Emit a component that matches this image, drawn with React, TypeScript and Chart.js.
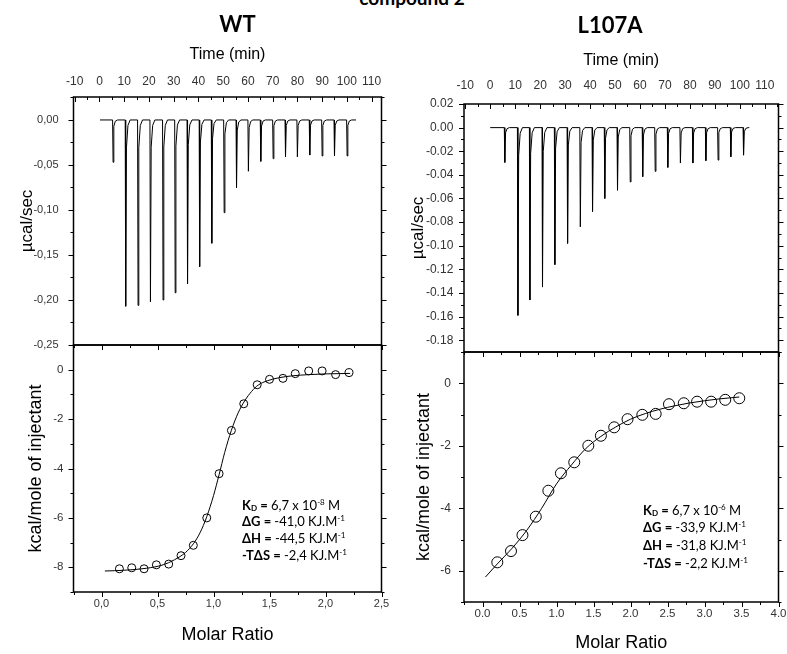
import React, { useEffect, useRef } from "react";
import { Chart, registerables } from "chart.js";

Chart.register(...registerables);

// ---------------- data ----------------
const TIME_TICKS = [-10, 0, 10, 20, 30, 40, 50, 60, 70, 80, 90, 100, 110];

// WT – raw thermogram (injection time in min, peak depth in µcal/sec)
const WT_INJ_TIME = [5.3, 10.4, 15.4, 20.4, 25.5, 30.4, 35.4, 40.3, 45.2, 50.2, 55.2, 60.0, 65.0, 70.0, 75.0, 79.8, 84.8, 89.8, 94.8, 99.9];
const WT_INJ_PEAK = [-0.047, -0.207, -0.206, -0.202, -0.2, -0.192, -0.182, -0.163, -0.137, -0.103, -0.075, -0.057, -0.046, -0.043, -0.041, -0.041, -0.039, -0.04, -0.04, -0.04];
const WT_RUN = [0.2, 103.7];
const WT_RAW_TICKS = [0, -0.05, -0.1, -0.15, -0.2, -0.25];

// WT – integrated heats
const WT_RATIO = [0.16, 0.27, 0.38, 0.49, 0.6, 0.71, 0.82, 0.94, 1.05, 1.16, 1.27, 1.39, 1.5, 1.62, 1.73, 1.85, 1.97, 2.09, 2.21];
const WT_HEAT = [-8.06, -8.02, -8.06, -7.9, -7.87, -7.53, -7.11, -6.0, -4.21, -2.46, -1.38, -0.61, -0.39, -0.35, -0.16, -0.05, -0.05, -0.2, -0.12];
const WT_FIT_RATIO = [0.03, 0.2, 0.4, 0.55, 0.65, 0.75, 0.82, 0.88, 0.94, 1.0, 1.05, 1.1, 1.16, 1.22, 1.28, 1.34, 1.4, 1.48, 1.58, 1.7, 1.85, 2.0, 2.22];
const WT_FIT_HEAT = [-8.15, -8.12, -8.04, -7.9, -7.7, -7.4, -7.05, -6.6, -5.95, -5.1, -4.25, -3.35, -2.45, -1.75, -1.25, -0.88, -0.62, -0.45, -0.33, -0.25, -0.2, -0.17, -0.15];
const WT_RATIO_TICKS = [0, 0.5, 1, 1.5, 2, 2.5];
const WT_HEAT_TICKS = [0, -2, -4, -6, -8];

// L107A – raw thermogram
const L_INJ_TIME = [5.65, 10.9, 15.7, 20.75, 25.7, 30.8, 35.9, 40.8, 45.7, 50.8, 55.9, 60.9, 65.9, 70.95, 76.0, 81.0, 86.2, 91.1, 96.2, 101.3];
const L_INJ_PEAK = [-0.0295, -0.159, -0.146, -0.135, -0.116, -0.098, -0.084, -0.071, -0.06, -0.053, -0.046, -0.0415, -0.037, -0.0337, -0.03, -0.03, -0.028, -0.0275, -0.0247, -0.0233];
const L_RUN = [0.0, 103.8];
const L_RAW_TICKS = [0.02, 0, -0.02, -0.04, -0.06, -0.08, -0.1, -0.12, -0.14, -0.16, -0.18];

// L107A – integrated heats
const L_RATIO = [0.2, 0.385, 0.54, 0.72, 0.89, 1.06, 1.24, 1.43, 1.6, 1.78, 1.96, 2.16, 2.34, 2.52, 2.72, 2.9, 3.09, 3.28, 3.47];
const L_HEAT = [-5.73, -5.37, -4.86, -4.27, -3.44, -2.88, -2.53, -2.0, -1.68, -1.41, -1.15, -1.01, -0.98, -0.67, -0.64, -0.59, -0.59, -0.53, -0.48];
const L_FIT_RATIO = [0.04, 0.2, 0.4, 0.6, 0.8, 1.0, 1.2, 1.4, 1.6, 1.8, 2.0, 2.2, 2.4, 2.6, 2.8, 3.0, 3.2, 3.47];
const L_FIT_HEAT = [-6.2, -5.78, -5.28, -4.7, -4.0, -3.22, -2.62, -2.08, -1.7, -1.4, -1.15, -0.97, -0.83, -0.72, -0.63, -0.56, -0.5, -0.44];
const L_RATIO_TICKS = [0, 0.5, 1, 1.5, 2, 2.5, 3, 3.5, 4];
const L_HEAT_TICKS = [0, -2, -4, -6];

type Seg = { text: string; bold?: boolean; sub?: boolean; sup?: boolean };
const WT_PARAMS: Seg[][] = [
  [{ text: "K", bold: true }, { text: "D", bold: true, sub: true }, { text: " = ", bold: true }, { text: "6,7 x 10" }, { text: "-8", sup: true }, { text: " M" }],
  [{ text: "ΔG = ", bold: true }, { text: "-41,0 KJ.M" }, { text: "-1", sup: true }],
  [{ text: "ΔH = ", bold: true }, { text: "-44,5 KJ.M" }, { text: "-1", sup: true }],
  [{ text: "-TΔS = ", bold: true }, { text: "-2,4 KJ.M" }, { text: "-1", sup: true }],
];
const L_PARAMS: Seg[][] = [
  [{ text: "K", bold: true }, { text: "D", bold: true, sub: true }, { text: " = ", bold: true }, { text: "6,7 x 10" }, { text: "-6", sup: true }, { text: " M" }],
  [{ text: "ΔG = ", bold: true }, { text: "-33,9 KJ.M" }, { text: "-1", sup: true }],
  [{ text: "ΔH = ", bold: true }, { text: "-31,8 KJ.M" }, { text: "-1", sup: true }],
  [{ text: "-TΔS = ", bold: true }, { text: "-2,2 KJ.M" }, { text: "-1", sup: true }],
];

// ---------------- helpers ----------------
const TICK_FAMILY = "'Liberation Sans', Arial, sans-serif";
const TITLE_FAMILY = "'Liberation Sans', Arial, sans-serif";
const NOTE_FAMILY = "Lato, 'Open Sans', sans-serif";

const comma = (d: number) => (v: number) => v.toFixed(d).replace(".", ",");
const dot = (d: number) => (v: number) => v.toFixed(d);

function rawTrace(times: number[], peaks: number[], run: number[]) {
  const pts: { x: number; y: number }[] = [{ x: run[0], y: 0 }];
  times.forEach((t, i) => {
    const p = peaks[i];
    pts.push({ x: t, y: 0 }, { x: t + 0.2, y: p }, { x: t + 0.5, y: p * 0.15 }, { x: t + 1.1, y: p * 0.03 }, { x: t + 2, y: 0 });
  });
  pts.push({ x: run[1], y: 0 });
  return pts;
}
const zip = (xs: number[], ys: number[]) => xs.map((x, i) => ({ x, y: ys[i] }));

function framePlugin(sides: Record<string, string | null>) {
  return {
    id: "frameTicks",
    afterDatasetsDraw(chart: any) {
      const { ctx, chartArea: a, scales } = chart;
      ctx.save();
      ctx.strokeStyle = "#000";
      ctx.lineWidth = 1;
      for (const side of ["top", "bottom", "left", "right"]) {
        const dir = sides[side];
        if (!dir) continue;
        const horiz = side === "top" || side === "bottom";
        const scale = horiz ? scales.x : scales.y;
        const majors: number[] = scale.ticks.map((t: any) => t.value);
        const step = majors[1] - majors[0];
        const lo = Math.min(scale.min, scale.max) - 1e-9;
        const hi = Math.max(scale.min, scale.max) + 1e-9;
        const minors = [majors[0] - step / 2, ...majors.map((v) => v + step / 2)].filter((v) => v >= lo && v <= hi);
        const base = side === "top" ? a.top : side === "bottom" ? a.bottom : side === "left" ? a.left : a.right;
        const outSign = side === "top" || side === "left" ? -1 : 1;
        const sign = dir === "out" ? outSign : -outSign;
        const draw = (v: number, len: number) => {
          const p = Math.round(scale.getPixelForValue(v)) + 0.5;
          ctx.beginPath();
          if (horiz) {
            ctx.moveTo(p, base);
            ctx.lineTo(p, base + sign * len);
          } else {
            ctx.moveTo(base, p);
            ctx.lineTo(base + sign * len, p);
          }
          ctx.stroke();
        };
        majors.forEach((v) => draw(v, 5));
        minors.forEach((v) => draw(v, 3));
      }
      ctx.lineWidth = 1.5;
      ctx.strokeRect(a.left, a.top, a.right - a.left, a.bottom - a.top);
      ctx.restore();
    },
  };
}

function notePlugin(lines: Seg[][], dx: number, dy: number, gap: number, size: number) {
  return {
    id: "fitNote",
    afterDraw(chart: any) {
      const { ctx, chartArea: a } = chart;
      ctx.save();
      ctx.fillStyle = "#000";
      ctx.textBaseline = "alphabetic";
      ctx.textAlign = "left";
      lines.forEach((line, i) => {
        let x = a.left + dx;
        const y = a.top + dy + i * gap;
        line.forEach((seg) => {
          const small = seg.sub || seg.sup;
          const s = small ? size * 0.62 : size;
          ctx.font = `${seg.bold ? 700 : 400} ${s}px ${NOTE_FAMILY}`;
          const yy = seg.sup ? y - size * 0.38 : seg.sub ? y + size * 0.12 : y;
          ctx.fillText(seg.text, x, yy);
          x += ctx.measureText(seg.text).width;
        });
      });
      ctx.restore();
    },
  };
}

function headerPlugin(text: string, x: number, y: number) {
  return {
    id: "panelHeader",
    afterDraw(chart: any) {
      const { ctx } = chart;
      ctx.save();
      ctx.fillStyle = "#000";
      ctx.font = `700 22px ${NOTE_FAMILY}`;
      ctx.textAlign = "center";
      ctx.textBaseline = "alphabetic";
      ctx.fillText(text, x, y);
      ctx.restore();
    },
  };
}

type Axis = {
  min: number; max: number; ticks: number[]; fmt: (v: number) => string;
  size: number; font: number; pad: number; title: string; titleFont: number; titlePad: number;
};

const noPad = (s: any) => {
  s.paddingTop = 0;
  s.paddingBottom = 0;
  s.paddingLeft = 0;
  s.paddingRight = 0;
};

function buildConfig(o: {
  datasets: any[];
  x: Axis & { position: "top" | "bottom" };
  y: Axis;
  padding: { left: number; top: number; right: number; bottom: number };
  sides: Record<string, string | null>;
  extra: any[];
}) {
  return {
    type: "scatter",
    data: { datasets: o.datasets },
    options: {
      responsive: false,
      animation: false,
      events: [],
      layout: { padding: o.padding, autoPadding: false },
      plugins: { legend: { display: false }, tooltip: { enabled: false } },
      scales: {
        x: {
          type: "linear",
          position: o.x.position,
          min: o.x.min,
          max: o.x.max,
          grid: { display: false, drawTicks: false },
          border: { display: false },
          afterBuildTicks: (s: any) => { s.ticks = o.x.ticks.map((v) => ({ value: v })); },
          afterFit: (s: any) => { s.height = o.x.size; noPad(s); },
          ticks: {
            autoSkip: false, maxRotation: 0, minRotation: 0, padding: o.x.pad, color: "#333",
            font: { family: TICK_FAMILY, size: o.x.font },
            callback: (v: any) => o.x.fmt(Number(v)),
          },
          title: {
            display: true, text: o.x.title, color: "#000",
            font: { family: TITLE_FAMILY, size: o.x.titleFont },
            padding: o.x.position === "top" ? { top: o.x.titlePad, bottom: 0 } : { top: 0, bottom: o.x.titlePad },
          },
        },
        y: {
          type: "linear",
          position: "left",
          min: o.y.min,
          max: o.y.max,
          grid: { display: false, drawTicks: false },
          border: { display: false },
          afterBuildTicks: (s: any) => { s.ticks = o.y.ticks.map((v) => ({ value: v })); },
          afterFit: (s: any) => { s.width = o.y.size; noPad(s); },
          ticks: {
            autoSkip: false, padding: o.y.pad, color: "#333",
            font: { family: TICK_FAMILY, size: o.y.font },
            callback: (v: any) => o.y.fmt(Number(v)),
          },
          title: {
            display: true, text: o.y.title, color: "#000",
            font: { family: TITLE_FAMILY, size: o.y.titleFont },
            padding: { top: o.y.titlePad, bottom: 0 },
          },
        },
      },
    },
    plugins: [framePlugin(o.sides), ...o.extra],
  };
}

const rawDataset = (times: number[], peaks: number[], run: number[]) => ({
  data: rawTrace(times, peaks, run),
  showLine: true, borderColor: "#000", borderWidth: 1, pointRadius: 0, tension: 0, fill: false,
});
const pointsDataset = (xs: number[], ys: number[], r: number) => ({
  data: zip(xs, ys),
  showLine: false, pointStyle: "circle", pointRadius: r, borderColor: "#000", borderWidth: 1,
  pointBackgroundColor: "rgba(255,255,255,0)", pointBorderColor: "#000",
});
const fitDataset = (xs: number[], ys: number[]) => ({
  data: zip(xs, ys),
  showLine: true, borderColor: "#000", borderWidth: 1, pointRadius: 0, cubicInterpolationMode: "monotone", fill: false,
});

// ---------------- chart specs ----------------
const wtTop = () =>
  buildConfig({
    datasets: [rawDataset(WT_INJ_TIME, WT_INJ_PEAK, WT_RUN)],
    x: { position: "top", min: -10.5, max: 114, ticks: TIME_TICKS, fmt: dot(0), size: 97, font: 12, pad: 7.8, title: "Time (min)", titleFont: 16, titlePad: 45.4 },
    y: { min: -0.25, max: 0.0255, ticks: WT_RAW_TICKS, fmt: comma(2), size: 73.5, font: 11, pad: 15, title: "µcal/sec", titleFont: 17, titlePad: 16.8 },
    padding: { left: 0, top: 0, right: 13.5, bottom: 11 },
    sides: { top: "in", bottom: null, left: "out", right: "out" },
    extra: [headerPlugin("WT", 237.5, 32)],
  });

const wtBottom = () =>
  buildConfig({
    datasets: [pointsDataset(WT_RATIO, WT_HEAT, 4), fitDataset(WT_FIT_RATIO, WT_FIT_HEAT)],
    x: { position: "bottom", min: -0.25, max: 2.5, ticks: WT_RATIO_TICKS, fmt: comma(1), size: 62, font: 11, pad: 5, title: "Molar Ratio", titleFont: 18, titlePad: 8.2 },
    y: { min: -9, max: 1, ticks: WT_HEAT_TICKS, fmt: dot(0), size: 73.5, font: 11.5, pad: 10, title: "kcal/mole of injectant", titleFont: 18, titlePad: 25.2 },
    padding: { left: 0, top: 1, right: 13.5, bottom: 0 },
    sides: { top: "in", bottom: "out", left: "out", right: "out" },
    extra: [notePlugin(WT_PARAMS, 168.5, 164.5, 16.7, 13)],
  });

const lTop = () =>
  buildConfig({
    datasets: [rawDataset(L_INJ_TIME, L_INJ_PEAK, L_RUN)],
    x: { position: "top", min: -10.5, max: 115.5, ticks: TIME_TICKS, fmt: dot(0), size: 104, font: 12, pad: 10.8, title: "Time (min)", titleFont: 16, titlePad: 51.4 },
    y: { min: -0.19, max: 0.02, ticks: L_RAW_TICKS, fmt: dot(2), size: 69, font: 12, pad: 10.7, title: "µcal/sec", titleFont: 17, titlePad: 13.3 },
    padding: { left: 0, top: 0, right: 8.5, bottom: 4 },
    sides: { top: "in", bottom: null, left: "out", right: "out" },
    extra: [headerPlugin("L107A", 215, 33)],
  });

const lBottom = () =>
  buildConfig({
    datasets: [pointsDataset(L_RATIO, L_HEAT, 5.5), fitDataset(L_FIT_RATIO, L_FIT_HEAT)],
    x: { position: "bottom", min: -0.25, max: 4, ticks: L_RATIO_TICKS, fmt: dot(1), size: 52, font: 11.5, pad: 5, title: "Molar Ratio", titleFont: 18, titlePad: 0.2 },
    y: { min: -7, max: 1, ticks: L_HEAT_TICKS, fmt: dot(0), size: 69, font: 12, pad: 13, title: "kcal/mole of injectant", titleFont: 18, titlePad: 18.2 },
    padding: { left: 0, top: 1, right: 8.5, bottom: 0 },
    sides: { top: "in", bottom: "out", left: "out", right: "out" },
    extra: [notePlugin(L_PARAMS, 179, 162.5, 17.7, 13)],
  });

// ---------------- components ----------------
function Plot({ left, top, width, height, build }: { left: number; top: number; width: number; height: number; build: () => any }) {
  const ref = useRef<HTMLCanvasElement>(null);
  useEffect(() => {
    const chart = new Chart(ref.current as HTMLCanvasElement, build());
    return () => chart.destroy();
  }, []);
  return (
    <canvas
      ref={ref}
      width={width}
      height={height}
      style={{ position: "absolute", left, top, width, height, display: "block" }}
    />
  );
}

export default function App() {
  return (
    <div style={{ position: "absolute", left: 0, top: 0, width: 787, height: 654, overflow: "hidden", background: "#fff" }}>
      <div
        style={{
          position: "absolute", left: 312, width: 200, top: -12, textAlign: "center",
          font: `700 19px ${NOTE_FAMILY}`, lineHeight: "19px", color: "#000", whiteSpace: "nowrap",
        }}
      >
        compound 2
      </div>
      <Plot left={0} top={0} width={395} height={356} build={wtTop} />
      <Plot left={0} top={344} width={395} height={310} build={wtBottom} />
      <Plot left={395} top={0} width={392} height={356} build={lTop} />
      <Plot left={395} top={351} width={392} height={303} build={lBottom} />
    </div>
  );
}
